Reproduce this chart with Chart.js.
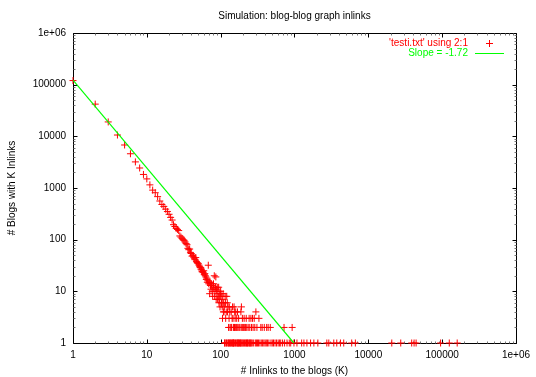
<!DOCTYPE html>
<html>
<head>
<meta charset="utf-8">
<script src="https://cdn.jsdelivr.net/npm/chart.js@4"></script>
<style>
html,body{margin:0;padding:0;background:#fff;}
#wrap{width:536px;height:377px;}
</style>
</head>
<body>
<div id="wrap"><canvas id="c" width="536" height="377"></canvas></div>
<script>
// ---- data ----
const inlinkK = [
  1,2,3,4,5,6,7,8,9,10,11,12,13,14,15,16,17,18,19,20,
  21,22,23,24,25,26,27,28,29,30,31,32,33,34,35,36,37,38,39,40,
  41,42,43,44,45,46,47,48,49,50,51,52,53,54,55,56,57,58,59,60,
  61,62,63,64,65,66,67,68,69,70,71,72,73,74,75,76,77,78,79,80,
  81,82,83,84,85,86,87,88,89,90,91,92,93,94,95,96,97,98,99,100,
  101,102,103,104,105,107,108,109,110,112,115,116,121,123,126,131,145,152,191,
  111,119,124,133,139,155,160,169,188,300,
  106,117,130,143,147,157,165,175,197,208,222,243,257,270,285,330,
  128,134,138,141,149,154,158,163,167,172,178,183,193,199,205,212,218,226,236,248,262,275,290,310,350,365,390,420,440,470,722,930,
  113,114,118,120,125,127,129,132,135,137,140,144,146,148,150,151,153,159,162,166,170,171,174,177,180,185,187,190,195,200,
  203,210,215,220,224,230,232,240,245,250,255,260,268,280,295,305,315,325,340,355,370,385,400,415,430,450,480,500,520,545,
  570,600,625,651,690,735,792,850,889,984,1080,1251,1343,1474,1652,1831,2073,2742,2917,3408,3739,4194,4647,5958,6680,
  20800,27500,38700,41700,44400,95300,125000,160000
];
const blogCount = [
  120000,42000,19000,10600,6800,4600,3200,2440,1830,1500,1150,910,810,680,560,480,440,390,350,310,
  270,240,195,180,165,158,150,118,112,106,100,97,90,84,80,68,64,66,56,54,
  48,50,46,44,41,45,38,36,35,34,32,30,29,27,26,24,24,23,25,21,
  22,20,19,17,18,15,16,32,14,15,9,15,13,11,14,13,10,8,12,14,
  11,20,8,10,12,19,7,11,9,12,7,10,8,12,6,7,9,5,8,10,
  9,6,6,8,5,7,9,4,6,5,8,6,8,6,5,5,5,5,5,
  4,4,4,4,4,4,4,4,4,4,
  3,3,3,3,3,3,3,3,3,3,3,3,3,3,3,3,
  2,2,2,2,2,2,2,2,2,2,2,2,2,2,2,2,2,2,2,2,2,2,2,2,2,2,2,2,2,2,2,2,
  1,1,1,1,1,1,1,1,1,1,1,1,1,1,1,1,1,1,1,1,1,1,1,1,1,1,1,1,1,1,
  1,1,1,1,1,1,1,1,1,1,1,1,1,1,1,1,1,1,1,1,1,1,1,1,1,1,1,1,1,1,
  1,1,1,1,1,1,1,1,1,1,1,1,1,1,1,1,1,1,1,1,1,1,1,1,1,
  1,1,1,1,1,1,1,1
];
// fitted power-law line endpoints (slope -1.72 on log-log)
const fitK = [1, 980];
const fitCount = [123000, 1];

const tickValues = [1, 10, 100, 1000, 10000, 100000, 1000000];
const xTickLabels = ['1', '10', '100', '1000', '10000', '100000', '1e+06'];
const yTickLabels = ['1', '10', '100', '1000', '10000', '100000', '1e+06'];
const minorMultipliers = [2, 3, 4, 5, 6, 7, 8, 9];

const titleText = 'Simulation: blog-blog graph inlinks';
const xTitle = '# Inlinks to the blogs (K)';
const yTitle = '# Blogs with K Inlinks';
const seriesLabel = "'testi.txt' using 2:1";
const fitLabel = 'Slope = -1.72';

const FONT = '"Liberation Sans", Arial, Helvetica, sans-serif';
const RED = '#ff0000';
const GREEN = '#00ff00';

// ---- plugin: gnuplot-like frame, inward ticks, legend ----
const gnuFrame = {
  id: 'gnuFrame',
  beforeDatasetsDraw(chart) {
    const {ctx, chartArea: a, scales: {x, y}} = chart;
    const L = Math.round(a.left) + 0.5, R = Math.round(a.right) + 0.5;
    const T = Math.round(a.top) + 0.5, B = Math.round(a.bottom) + 0.5;
    ctx.save();
    ctx.lineWidth = 1;
    ctx.strokeStyle = '#000';
    ctx.beginPath();
    ctx.rect(L, T, R - L, B - T);
    ctx.stroke();
    const major = 4, minor = 2;
    ctx.beginPath();
    tickValues.forEach(v => {
      const px = Math.round(x.getPixelForValue(v)) + 0.5;
      const py = Math.round(y.getPixelForValue(v)) + 0.5;
      ctx.moveTo(px, B); ctx.lineTo(px, B - major);
      ctx.moveTo(px, T); ctx.lineTo(px, T + major);
      ctx.moveTo(L, py); ctx.lineTo(L + major, py);
      ctx.moveTo(R, py); ctx.lineTo(R - major, py);
    });
    ctx.stroke();
    ctx.strokeStyle = '#777';
    ctx.beginPath();
    tickValues.slice(0, -1).forEach(v => {
      minorMultipliers.forEach(m => {
        const px = Math.round(x.getPixelForValue(v * m)) + 0.5;
        const py = Math.round(y.getPixelForValue(v * m)) + 0.5;
        ctx.moveTo(px, B); ctx.lineTo(px, B - minor);
        ctx.moveTo(px, T); ctx.lineTo(px, T + minor);
        ctx.moveTo(L, py); ctx.lineTo(L + minor, py);
        ctx.moveTo(R, py); ctx.lineTo(R - minor, py);
      });
    });
    ctx.stroke();
    ctx.restore();
  },
  afterDraw(chart) {
    const {ctx, chartArea: a} = chart;
    const ds = chart.data.datasets;
    const textRight = a.right - 48;
    const y1 = Math.round(a.top + 10), y2 = Math.round(a.top + 20);
    ctx.save();
    ctx.globalAlpha = 1;
    ctx.font = '10px ' + FONT;
    ctx.textAlign = 'right';
    ctx.textBaseline = 'middle';
    ctx.fillStyle = RED;
    ctx.fillText(ds[0].label, textRight, y1 + 0.5);
    ctx.fillStyle = GREEN;
    ctx.fillText(ds[1].label, textRight, y2 + 0.5);
    // sample cross
    const cx = Math.round(a.right - 27);
    ctx.fillStyle = RED;
    ctx.fillRect(cx - 3, y1, 7, 1);
    ctx.fillRect(cx, y1 - 3, 1, 7);
    // sample line
    ctx.fillStyle = GREEN;
    ctx.fillRect(Math.round(a.right - 41), y2, 29, 1);
    ctx.restore();
  }
};

const chart = new Chart(document.getElementById('c'), {
  type: 'scatter',
  data: {
    datasets: [
      {
        label: seriesLabel,
        data: inlinkK.map((k, i) => ({x: k, y: blogCount[i]})),
        pointStyle: 'cross',
        pointRadius: 3.5,
        pointHoverRadius: 3.5,
        borderColor: RED,
        backgroundColor: RED,
        borderWidth: 1,
        clip: false,
        order: 2
      },
      {
        label: fitLabel,
        type: 'line',
        data: fitK.map((k, i) => ({x: k, y: fitCount[i]})),
        borderColor: GREEN,
        backgroundColor: GREEN,
        borderWidth: 1.2,
        pointRadius: 0,
        fill: false,
        tension: 0,
        order: 1
      }
    ]
  },
  options: {
    responsive: false,
    animation: false,
    devicePixelRatio: 1,
    events: [],
    layout: {padding: {left: 0, right: 18, top: 0, bottom: 0}},
    plugins: {
      legend: {display: false},
      tooltip: {enabled: false},
      title: {
        display: true,
        text: titleText,
        fullSize: false,
        color: '#000',
        font: {family: FONT, size: 10, weight: 'normal'},
        padding: {top: 10, bottom: 11}
      }
    },
    scales: {
      x: {
        type: 'logarithmic',
        min: 1,
        max: 1000000,
        afterBuildTicks: s => { s.ticks = tickValues.map(v => ({value: v})); },
        afterFit: s => { s.height = 34; },
        grid: {display: false, drawTicks: false},
        border: {display: false},
        ticks: {
          autoSkip: false, maxRotation: 0, padding: 6,
          color: '#000',
          font: {family: FONT, size: 10},
          callback: (v, i) => xTickLabels[i]
        },
        title: {
          display: true, text: xTitle, color: '#000',
          font: {family: FONT, size: 10},
          padding: {top: 0, bottom: 0}
        }
      },
      y: {
        type: 'logarithmic',
        min: 1,
        max: 1000000,
        afterBuildTicks: s => { s.ticks = tickValues.map(v => ({value: v})); },
        afterFit: s => { s.width = 73; },
        grid: {display: false, drawTicks: false},
        border: {display: false},
        ticks: {
          autoSkip: false, padding: 7,
          color: '#000',
          font: {family: FONT, size: 10},
          callback: (v, i) => yTickLabels[i]
        },
        title: {
          display: true, text: yTitle, color: '#000',
          font: {family: FONT, size: 10},
          padding: {top: 6, bottom: 0}
        }
      }
    }
  },
  plugins: [gnuFrame]
});
</script>
</body>
</html>
